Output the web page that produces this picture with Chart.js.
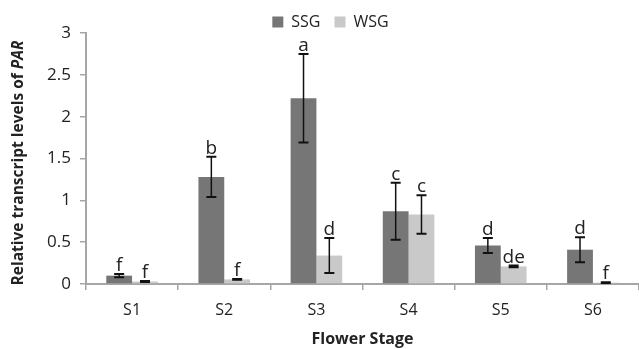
<!DOCTYPE html>
<html>
<head>
<meta charset="utf-8">
<script src="https://cdn.jsdelivr.net/npm/chart.js@4/dist/chart.umd.min.js"></script>
<style>
  body { margin: 0; background: #fff; }
</style>
</head>
<body>
<canvas id="chart" width="639" height="349"></canvas>
<script>
// data
const stages = ['S1', 'S2', 'S3', 'S4', 'S5', 'S6']
const ssg = [0.10, 1.28, 2.22, 0.87, 0.46, 0.41]
const ssgErr = [0.02, 0.24, 0.53, 0.34, 0.09, 0.15]
const wsg = [0.03, 0.055, 0.34, 0.83, 0.21, 0.016]
const wsgErr = [0.005, 0.005, 0.21, 0.23, 0.01, 0.004]
const ssgLetters = ['f', 'b', 'a', 'c', 'd', 'd']
const wsgLetters = ['f', 'f', 'd', 'c', 'de', 'f']
const yTicks = [0, 0.5, 1, 1.5, 2, 2.5, 3]

const FONT = "'Open Sans', 'DejaVu Sans', sans-serif"
const AXIS = '#a6a6a6'
const TEXT = '#222'

const errors = [ssgErr, wsgErr]
const letters = [ssgLetters, wsgLetters]

// error bars with caps
const errorBars = {
    id: 'errorBars',
    afterDatasetsDraw(chart) {
        const ctx = chart.ctx
        const y = chart.scales.y
        ctx.save()
        ctx.strokeStyle = '#111'
        chart.data.datasets.forEach((ds, i) => {
            chart.getDatasetMeta(i).data.forEach((bar, j) => {
                const v = ds.data[j]
                const e = errors[i][j]
                const top = y.getPixelForValue(v + e)
                const bot = y.getPixelForValue(v - e)
                ctx.lineWidth = 1.5
                ctx.beginPath()
                ctx.moveTo(bar.x, top)
                ctx.lineTo(bar.x, bot)
                ctx.stroke()
                ctx.lineWidth = 2
                ctx.beginPath()
                ctx.moveTo(bar.x - 5, top)
                ctx.lineTo(bar.x + 5, top)
                ctx.moveTo(bar.x - 5, bot)
                ctx.lineTo(bar.x + 5, bot)
                ctx.stroke()
            })
        })
        ctx.restore()
    },
}

// significance letters above the error bars
const sigLetters = {
    id: 'sigLetters',
    afterDatasetsDraw(chart) {
        const ctx = chart.ctx
        const y = chart.scales.y
        ctx.save()
        ctx.fillStyle = TEXT
        ctx.font = '19px ' + FONT
        ctx.textAlign = 'center'
        ctx.textBaseline = 'alphabetic'
        chart.data.datasets.forEach((ds, i) => {
            chart.getDatasetMeta(i).data.forEach((bar, j) => {
                const top = y.getPixelForValue(ds.data[j] + errors[i][j])
                ctx.fillText(letters[i][j], bar.x, top - 3)
            })
        })
        ctx.restore()
    },
}

// y title with italic gene name
const yTitle = {
    id: 'yTitle',
    afterDraw(chart) {
        const ctx = chart.ctx
        const a = 'Relative transcript levels of '
        const b = 'PAR'
        ctx.save()
        ctx.fillStyle = TEXT
        ctx.textBaseline = 'middle'
        ctx.textAlign = 'left'
        ctx.font = 'bold 15.5px ' + FONT
        const wa = ctx.measureText(a).width
        ctx.font = 'italic bold 15.5px ' + FONT
        const wb = ctx.measureText(b).width
        ctx.translate(19, 163)
        ctx.rotate(-Math.PI / 2)
        const x0 = -(wa + wb) / 2
        ctx.font = 'bold 15.5px ' + FONT
        ctx.fillText(a, x0, 0)
        ctx.font = 'italic bold 15.5px ' + FONT
        ctx.fillText(b, x0 + wa, 0)
        ctx.restore()
    },
}

// legend sits a little right of the canvas centre in the original
const legendShift = {
    id: 'legendShift',
    afterLayout(chart) {
        chart.legend.left += 11
        chart.legend.right += 11
    },
}

new Chart(document.getElementById('chart').getContext('2d'), {
    type: 'bar',
    data: {
        labels: stages,
        datasets: [
            { label: 'SSG', data: ssg, backgroundColor: '#767676' },
            { label: 'WSG', data: wsg, backgroundColor: '#c9c9c9' },
        ],
    },
    options: {
        responsive: false,
        animation: false,
        devicePixelRatio: 1,
        layout: { padding: { top: 0, left: 0, right: 0, bottom: 0 } },
        datasets: {
            bar: { categoryPercentage: 0.56, barPercentage: 1 },
        },
        plugins: {
            legend: {
                position: 'top',
                maxHeight: 33,
                labels: {
                    boxWidth: 11,
                    boxHeight: 11,
                    padding: 14,
                    color: TEXT,
                    font: { family: FONT, size: 16 },
                },
            },
            tooltip: { enabled: false },
        },
        scales: {
            x: {
                grid: {
                    offset: true,
                    drawOnChartArea: false,
                    tickLength: 6,
                    color: AXIS,
                    lineWidth: 1.5,
                },
                border: { color: AXIS, width: 2 },
                ticks: {
                    color: TEXT,
                    padding: 11,
                    font: { family: FONT, size: 16 },
                },
                title: {
                    display: true,
                    text: 'Flower Stage',
                    color: TEXT,
                    font: { family: FONT, size: 16, weight: 'bold' },
                    padding: { top: 0, bottom: 0 },
                },
                afterFit(scale) {
                    scale.height = 65
                },
            },
            y: {
                min: 0,
                max: 3,
                afterBuildTicks(scale) {
                    scale.ticks = yTicks.map(v => ({ value: v }))
                },
                grid: {
                    drawOnChartArea: false,
                    tickLength: 6,
                    color: AXIS,
                    lineWidth: 1.5,
                },
                border: { color: AXIS, width: 2 },
                ticks: {
                    color: TEXT,
                    padding: 9,
                    font: { family: FONT, size: 17 },
                    callback: v => String(v),
                },
                afterFit(scale) {
                    scale.width = 86
                },
            },
        },
    },
    plugins: [errorBars, sigLetters, yTitle, legendShift],
})
</script>
</body>
</html>
